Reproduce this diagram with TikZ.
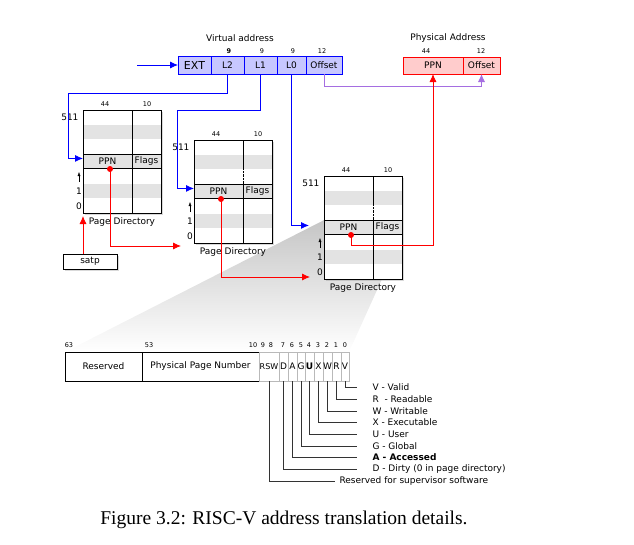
\documentclass[tikz,border=0pt]{standalone}
\usepackage{fontspec}
\setmainfont{DejaVu Sans}
\newfontfamily\capfont{Liberation Serif}
\usetikzlibrary{arrows.meta,positioning,shadows,backgrounds,calc}

\tikzset{
  every node/.style={font=\fontsize{9}{10}\selectfont},
  arr/.style={-{Latex[length=8pt,width=7pt]}},
  vbox/.style={draw=blue, fill=blue!22, line width=1pt, minimum height=18, inner sep=0, outer sep=0},
  pbox/.style={draw=red, fill=red!20, line width=1pt, minimum height=17, inner sep=0, outer sep=0},
  bitlbl/.style={font=\fontsize{6.5}{7}\selectfont},
  vline/.style={blue, line width=0.8pt, arr},
  rline/.style={red, line width=0.8pt, arr},
  oline/.style={color={rgb,255:red,165;green,110;blue,225}, line width=0.8pt, arr},
  band/.style={fill=gray!22},
  pdframe/.style={fill=white, minimum width=78, minimum height=103, inner sep=0, outer sep=0,
    drop shadow={shadow xshift=2pt, shadow yshift=-2pt, opacity=0.3}},
  pprow/.style={draw, thick, fill=gray!22, minimum height=14.7, inner sep=0, outer sep=0},
  rdot/.style={circle, fill=red, inner sep=0, minimum size=6},
  ptef/.style={draw, line width=0.9pt, fill=white, minimum height=29, inner sep=0, outer sep=0},
  flagf/.style={draw=gray!55, line width=0.8pt, fill=white, minimum height=29, inner sep=0, outer sep=0},
  legline/.style={black!80, line width=0.7pt}
}

% one page directory: name, left, top, style of the upper divider
\newcommand{\pagedir}[4]{%
  \node[pdframe, anchor=north west] (#1) at (#2,#3) {};
  \begin{scope}[shift={(#2,#3)}]
    \fill[band] (0,14.7) rectangle (78,29.4);
    \fill[band] (0,73.5) rectangle (78,88.2);
    \node[pprow, minimum width=49, anchor=north west] (#1ppn) at (0,44.1) {PPN};
    \node[pprow, minimum width=29, anchor=north west] (#1flags) at (49,44.1) {Flags};
    \draw (49,0) -- (49,29.4);
    \draw[#4] (49,29.4) -- (49,44.1);
    \draw (49,58.8) -- (49,103);
    \draw[thick] (0,0) rectangle (78,103);
    \node[bitlbl] at (22,-6) {44};
    \node[bitlbl] at (64,-6) {10};
    \node[anchor=east] at (-1,7) {511};
    \node at (-4,81) {1};
    \node at (-4,96) {0};
    \draw[-{Latex[length=4pt,width=3pt]}] (-4,72) -- (-4,62);
    \node at (39,112) {Page Directory};
    \node[rdot] (#1dot) at (27,59) {};
  \end{scope}}

\begin{document}
\begin{tikzpicture}[x=1pt,y=-1pt]
\useasboundingbox (0,0) rectangle (634,544);

% virtual address
\node (vtitle) at (240,38) {Virtual address};
\node[vbox, minimum width=33, font=\fontsize{11}{12}\selectfont] (ext) at (194.5,65) {EXT};
\node[vbox, minimum width=33, right=0pt of ext] (vL2) {L2};
\node[vbox, minimum width=33, right=0pt of vL2] (vL1) {L1};
\node[vbox, minimum width=29, right=0pt of vL1] (vL0) {L0};
\node[vbox, minimum width=36, right=0pt of vL0] (voff) {Offset};
\node[bitlbl] at (229,51) {\textbf{9}};
\node[bitlbl] at (262,51) {9};
\node[bitlbl] at (293,51) {9};
\node[bitlbl] at (322,51) {12};
\coordinate (vin) at (137,65);

% physical address
\node (ptitle) at (448,38) {Physical Address};
\node[pbox, minimum width=60] (pppn) at (433,65.5) {PPN};
\node[pbox, minimum width=37, right=0pt of pppn] (poff) {Offset};
\node[bitlbl] at (426,51) {44};
\node[bitlbl] at (481,51) {12};

% page directories
\pagedir{t1}{83}{110}{solid}
\pagedir{t2}{194}{140}{densely dotted}
\pagedir{t3}{324}{176}{densely dotted}

\node[draw, thick, fill=white, minimum width=54, minimum height=15, inner sep=0,
  drop shadow={shadow xshift=2pt, shadow yshift=-2pt, opacity=0.3}] (satp) at (90,261.5) {satp};

% walk
\draw[vline] (vin) -- (ext.west);
\draw[vline] (vL2.south) |- ++(-159,19) |- ($(t1ppn.west)+(0,-3)$);
\draw[vline] (vL1.south) |- ++(-83,36) |- ($(t2ppn.west)+(0,-3)$);
\draw[vline, shorten >=15pt] (vL0.south) |- ($(t3ppn.west)+(0,-2)$);
\draw[oline] (voff.south) -- ++(0,12) -| (poff.south);
\draw[rline, shorten >=3pt] (satp.north -| t1.south west) -- (t1.south west);
\draw[rline, shorten >=13pt] (t1dot.center) |- ($(t2.south west)+(0,3)$);
\draw[rline, shorten >=14pt] (t2dot.center) |- ($(t3.south west)+(0,-2)$);
\draw[rline] (t3dot.center) -- ++(0,10) -| (pppn.south);

% page table entry
\node[ptef, minimum width=77] (res) at (103.5,366.5) {Reserved};
\node[ptef, minimum width=117, right=0pt of res] (ppnf) {Physical Page Number};
\node[flagf, minimum width=20, right=0pt of ppnf, font=\fontsize{8}{9}\selectfont] (fRSW) {RSW};
\foreach \f/\w/\t [remember=\f as \p (initially RSW)] in
  {D/9/D, A/9/A, G/8/G, U/9/\textbf{U}, X/9/X, W/9/W, R/9/R, V/8/V}
  \node[flagf, minimum width=\w, right=0pt of f\p] (f\f) {\t};

\node[bitlbl] at (69,345) {63};
\node[bitlbl] at (149,345) {53};
\node[bitlbl] at (253,345) {10};
\foreach \b/\x in {9/263,8/271,7/283,6/292,5/301,4/309,3/318,2/327,1/336,0/345}
  \node[bitlbl] at (\x,345) {\b};

% legend
\foreach \f/\y/\t in {V/387/V - Valid, R/399/R~ - Readable, W/411/W - Writable,
  X/422/X - Executable, U/434/U - User, G/446/G - Global, A/457/\textbf{A - Accessed},
  D/469/D - Dirty (0 in page directory)} {
  \node[anchor=west] (l\f) at (369,\y) {\t};
  \draw[legline, shorten >=12pt] (f\f.south) |- (l\f.west);
}
\node[anchor=west] (lRSW) at (336,481) {Reserved for supervisor software};
\draw[legline, shorten >=1pt] (fRSW.south) |- (lRSW.west);

% zoom wedge
\begin{scope}[on background layer]
\shade[top color=gray!45, bottom color=white] (res.north west) -- (t3ppn.north west)
  -- (t3flags.south east) -- (fV.north east) -- cycle;
\end{scope}

\node[font=\capfont\fontsize{19.5}{22}\selectfont] (cap) at (284,520)
  {Figure 3.2: RISC-V address translation details.};
\end{tikzpicture}
\end{document}
